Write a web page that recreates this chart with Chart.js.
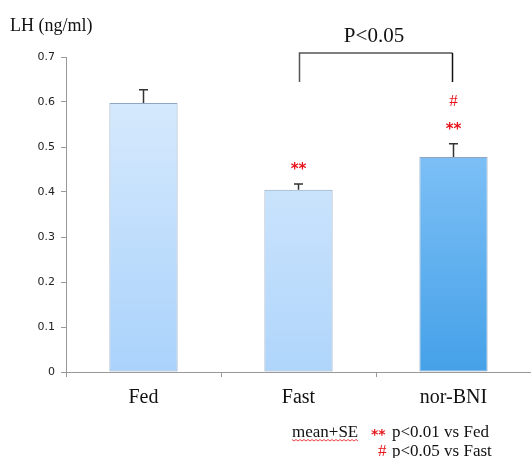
<!DOCTYPE html>
<html>
<head>
<meta charset="utf-8">
<script src="https://cdn.jsdelivr.net/npm/chart.js@4.4.0/dist/chart.umd.min.js"></script>
<style>
  html, body { margin: 0; padding: 0; background: #fff; }
  #wrap { width: 531px; height: 458px; position: relative; }
</style>
</head>
<body>
<div id="wrap"><canvas id="grafico"></canvas></div>
<script>
// datos del grafico
const categorias = ['Fed', 'Fast', 'nor-BNI'];
const valoresLH = [0.598, 0.405, 0.478];
const errorSE = [0.029, 0.013, 0.029];
const marcasEstrella = ['', '**', '**'];
const marcasAlmohadilla = ['', '', '#'];
const ticksY = [0, 0.1, 0.2, 0.3, 0.4, 0.5, 0.6, 0.7];

// colores de degradado por barra (arriba, abajo)
const coloresArriba = ['#ddedfd', '#ddedfd', '#96cdfc'];
const coloresAbajo = ['#a9d2fb', '#afd5fb', '#45a1e8'];
const ROJO = '#e5141b';

function degradado(context) {
    const chart = context.chart;
    const area = chart.chartArea;
    if (!area) return coloresAbajo[context.dataIndex];
    const g = chart.ctx.createLinearGradient(0, area.top, 0, area.bottom);
    g.addColorStop(0, coloresArriba[context.dataIndex]);
    g.addColorStop(1, coloresAbajo[context.dataIndex]);
    return g;
}

// plugin: barras de error, asteriscos, corchete y textos
const anotaciones = {
    id: 'anotaciones',
    afterDatasetsDraw(chart) {
        const ctx = chart.ctx;
        const y = chart.scales.y;
        const meta = chart.getDatasetMeta(0);
        ctx.save();

        // barras de error (solo hacia arriba)
        meta.data.forEach((bar, i) => {
            const yTop = y.getPixelForValue(valoresLH[i] + errorSE[i]);
            ctx.strokeStyle = '#333';
            ctx.lineWidth = 1.5;
            ctx.beginPath();
            ctx.moveTo(bar.x, bar.y);
            ctx.lineTo(bar.x, yTop);
            ctx.moveTo(bar.x - 4.5, yTop);
            ctx.lineTo(bar.x + 4.5, yTop);
            ctx.stroke();

            ctx.fillStyle = ROJO;
            ctx.textAlign = 'center';
            ctx.textBaseline = 'middle';
            if (marcasEstrella[i]) {
                ctx.font = 'bold 15px "DejaVu Sans"';
                ctx.fillText(marcasEstrella[i], bar.x, yTop - 14);
            }
            if (marcasAlmohadilla[i]) {
                ctx.font = '17px "Liberation Serif"';
                ctx.fillText(marcasAlmohadilla[i], bar.x, yTop - 42);
            }
        });

        // corchete Fast - nor-BNI
        const a = meta.data[1].x + 1, b = meta.data[2].x - 1;
        const top = chart.chartArea.top - 4;
        ctx.strokeStyle = '#555';
        ctx.lineWidth = 1.5;
        ctx.beginPath();
        ctx.moveTo(a, top + 29);
        ctx.lineTo(a, top);
        ctx.lineTo(b, top);
        ctx.stroke();
        ctx.strokeStyle = '#111';
        ctx.beginPath();
        ctx.moveTo(b, top);
        ctx.lineTo(b, top + 29);
        ctx.stroke();
        ctx.fillStyle = '#111';
        ctx.font = '21px "Liberation Serif"';
        ctx.textAlign = 'center';
        ctx.textBaseline = 'alphabetic';
        ctx.fillText('P<0.05', (a + b) / 2 - 2, top - 11);

        // titulo del eje Y
        ctx.textAlign = 'left';
        ctx.font = '18px "Liberation Serif"';
        ctx.fillText('LH (ng/ml)', 10, 31);

        // leyenda inferior
        ctx.font = '17px "Liberation Serif"';
        ctx.fillStyle = '#111';
        ctx.fillText('mean+SE', 292, 437);
        const w = ctx.measureText('mean+SE').width;
        // subrayado ondulado rojo
        ctx.strokeStyle = ROJO;
        ctx.lineWidth = 0.8;
        ctx.beginPath();
        for (let x = 292, k = 0; x <= 292 + w; x += 2, k++) {
            const yy = 440 + (k % 2 ? 1 : -0.5);
            if (k === 0) ctx.moveTo(x, yy); else ctx.lineTo(x, yy);
        }
        ctx.stroke();
        ctx.fillStyle = ROJO;
        ctx.font = 'bold 14px "DejaVu Sans"';
        ctx.fillText('**', 371, 439);
        ctx.fillStyle = '#111';
        ctx.font = '17px "Liberation Serif"';
        ctx.fillText('p<0.01 vs Fed', 392, 437);
        ctx.fillStyle = ROJO;
        ctx.fillText('#', 378, 456);
        ctx.fillStyle = '#111';
        ctx.fillText('p<0.05 vs Fast', 392, 456);

        ctx.restore();
    }
};

const datos = {
    labels: categorias,
    datasets: [{
        data: valoresLH,
        backgroundColor: degradado,
        borderColor: '#8ea6c2',
        borderWidth: 1,
        borderSkipped: false,
        barPercentage: 0.44,
        categoryPercentage: 1
    }]
};

const configuracion = {
    type: 'bar',
    data: datos,
    options: {
        responsive: true,
        maintainAspectRatio: false,
        animation: false,
        layout: { padding: { top: 57, right: 0, bottom: 0, left: 0 } },
        plugins: {
            legend: { display: false },
            tooltip: { enabled: false }
        },
        scales: {
            x: {
                afterFit: s => { s.height = 86; },
                grid: { drawOnChartArea: false, drawTicks: true, tickLength: 5, color: '#999', offset: true },
                border: { color: '#999', width: 1 },
                ticks: {
                    color: '#111',
                    padding: 9,
                    font: { family: 'Liberation Serif', size: 20 }
                }
            },
            y: {
                min: 0,
                max: 0.7,
                afterFit: s => { s.width = 66; },
                afterBuildTicks: s => { s.ticks = ticksY.map(v => ({ value: v })); },
                grid: { drawOnChartArea: false, drawTicks: true, tickLength: 5, color: '#999' },
                border: { color: '#999', width: 1 },
                ticks: {
                    color: '#222',
                    padding: 6,
                    font: { family: 'DejaVu Sans', size: 11 },
                    callback: v => v === 0 ? '0' : v.toFixed(1)
                }
            }
        }
    },
    plugins: [anotaciones]
};

const ctx = document.getElementById('grafico').getContext('2d');
new Chart(ctx, configuracion);
</script>
</body>
</html>
